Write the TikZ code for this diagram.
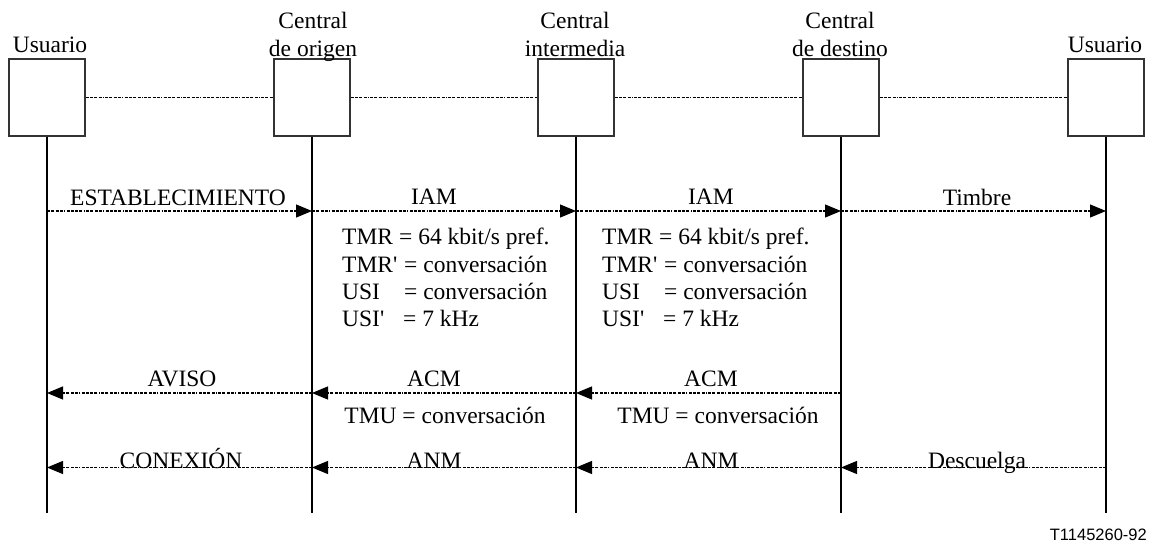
\documentclass[tikz,border=0pt]{standalone}
\usepackage{fontspec}
\setmainfont{Liberation Serif}
\newfontfamily\sansf{Liberation Sans}
\usetikzlibrary{arrows.meta}
\begin{document}
\begin{tikzpicture}[x=1bp,y=-1bp,
  ent/.style={draw=black!80, line width=1.2bp, fill=white, minimum width=76bp, minimum height=77bp, inner sep=0pt},
  life/.style={line width=2bp},
  dd/.style={line width=1.2bp, dash pattern=on 3bp off 1.3bp on 3bp off 1.3bp on 3bp off 1.3bp on 3bp off 1.3bp on 1bp off 1.3bp},
  msg/.style={dd, -{Triangle[length=16bp,width=13bp]}},
  lbl/.style={font=\fontsize{23.5bp}{28bp}\selectfont, anchor=base, inner sep=0pt},
  par/.style={lbl, anchor=base west},
  ]
\path[use as bounding box] (0,0) rectangle (1149,543);

% entities
\node[ent] (b1) at (47,97.5) {};
\node[ent] (b2) at (312,97.5) {};
\node[ent] (b3) at (576,97.5) {};
\node[ent] (b4) at (841,97.5) {};
\node[ent] (b5) at (1106,97.5) {};

% titles
\node[lbl] (t1) at (50,53) {Usuario};
\node[lbl] (t2a) at (313,29) {Central};
\node[lbl] (t2b) at (313,57) {de origen};
\node[lbl] (t3a) at (575,29) {Central};
\node[lbl] (t3b) at (575,57) {intermedia};
\node[lbl] (t4a) at (840,29) {Central};
\node[lbl] (t4b) at (840,57) {de destino};
\node[lbl] (t5) at (1105,53) {Usuario};

% links between entities
\draw[dd] (b1.east) -- (b2.west);
\draw[dd] (b2.east) -- (b3.west);
\draw[dd] (b3.east) -- (b4.west);
\draw[dd] (b4.east) -- (b5.west);

% lifeline ends
\coordinate (e1) at (47,513);
\coordinate (e2) at (312,513);
\coordinate (e3) at (576,513);
\coordinate (e4) at (841,513);
\coordinate (e5) at (1106,513);
\draw[life] (b1.south) -- (e1);
\draw[life] (b2.south) -- (e2);
\draw[life] (b3.south) -- (e3);
\draw[life] (b4.south) -- (e4);
\draw[life] (b5.south) -- (e5);

% row coordinates
\foreach \n/\x in {1/47,2/312,3/576,4/841,5/1106}{
  \coordinate (a\n) at (\x,211);
  \coordinate (c\n) at (\x,393);
  \coordinate (d\n) at (\x,467.5);
}

% setup
\draw[msg] (a1) -- (a2);
\draw[msg] (a2) -- (a3);
\draw[msg] (a3) -- (a4);
\draw[msg] (a4) -- (a5);
\node[lbl] (m1) at (178,206) {ESTABLECIMIENTO};
\node[lbl] (m2) at (434,205) {IAM};
\node[lbl] (m3) at (711,205) {IAM};
\node[lbl] (m4) at (977,206) {Timbre};

% parameters
\node[par] (p1a) at (342,245) {\makebox[57bp][l]{TMR}= 64 kbit/s pref.};
\node[par] (p1b) at (342,272.5) {\makebox[62bp][l]{TMR\textquotesingle}= conversación};
\node[par] (p1c) at (342,300) {\makebox[62bp][l]{USI}= conversación};
\node[par] (p1d) at (342,327) {\makebox[61bp][l]{USI\textquotesingle}= 7 kHz};
\node[par] (p2a) at (602,245) {\makebox[57bp][l]{TMR}= 64 kbit/s pref.};
\node[par] (p2b) at (602,272.5) {\makebox[62bp][l]{TMR\textquotesingle}= conversación};
\node[par] (p2c) at (602,300) {\makebox[62bp][l]{USI}= conversación};
\node[par] (p2d) at (602,327) {\makebox[61bp][l]{USI\textquotesingle}= 7 kHz};

% alerting
\draw[msg] (c4) -- (c3);
\draw[msg] (c3) -- (c2);
\draw[msg] (c2) -- (c1);
\node[lbl] (n1) at (182,387) {AVISO};
\node[lbl] (n2) at (434,387) {ACM};
\node[lbl] (n3) at (711,387) {ACM};
\node[lbl] (u1) at (445,423) {TMU = conversación};
\node[lbl] (u2) at (718,423) {TMU = conversación};

% answer
\draw[msg] (d5) -- (d4);
\draw[msg] (d4) -- (d3);
\draw[msg] (d3) -- (d2);
\draw[msg] (d2) -- (d1);
\node[lbl] (k1) at (181,468.5) {CONEXIÓN};
\node[lbl] (k2) at (434,468.5) {ANM};
\node[lbl] (k3) at (711,468.5) {ANM};
\node[lbl] (k4) at (977,468.5) {Descuelga};

\node[font=\sansf\fontsize{16.5bp}{19bp}\selectfont, anchor=base east, inner sep=0pt] (ref) at (1147,540) {T1145260-92};
\end{tikzpicture}
\end{document}
